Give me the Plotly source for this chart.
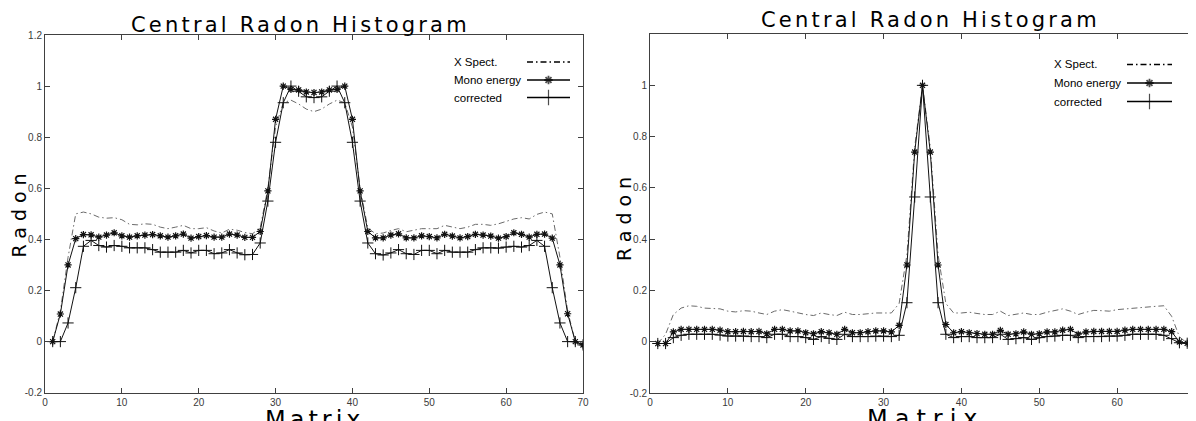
import plotly.graph_objects as go

# The page body has an 8px margin, so the figure fills the rest of the window.
PAGE_OFF = 8
W, H = 1196 - PAGE_OFF, 421 - PAGE_OFF

# ---------------- data ----------------
matrix = list(range(1, 71))

left_xspect = [0.0, 0.12, 0.33, 0.50, 0.507, 0.50, 0.487, 0.483, 0.485, 0.477,
               0.459, 0.457, 0.461, 0.459, 0.448, 0.442, 0.448, 0.455, 0.442, 0.442,
               0.446, 0.433, 0.425, 0.44, 0.436, 0.427, 0.422, 0.445, 0.60, 0.84,
               0.935, 0.945, 0.93, 0.91, 0.90, 0.91, 0.93, 0.945, 0.935, 0.84,
               0.60, 0.445, 0.422, 0.425, 0.435, 0.442, 0.43, 0.436, 0.442, 0.442,
               0.442, 0.455, 0.448, 0.442, 0.448, 0.459, 0.459, 0.455, 0.461, 0.472,
               0.48, 0.485, 0.48, 0.498, 0.507, 0.50, 0.33, 0.12, 0.0, -0.013]

left_mono = [0.0, 0.108, 0.30, 0.403, 0.419, 0.418, 0.409, 0.417, 0.426, 0.414,
             0.409, 0.414, 0.417, 0.419, 0.414, 0.409, 0.414, 0.421, 0.405, 0.411,
             0.415, 0.409, 0.409, 0.421, 0.417, 0.408, 0.408, 0.431, 0.59, 0.87,
             1.0, 0.987, 0.985, 0.977, 0.975, 0.977, 0.985, 0.987, 1.0, 0.87,
             0.59, 0.431, 0.406, 0.406, 0.417, 0.422, 0.406, 0.406, 0.414, 0.411,
             0.406, 0.42, 0.413, 0.406, 0.411, 0.42, 0.417, 0.413, 0.405, 0.411,
             0.426, 0.42, 0.409, 0.42, 0.421, 0.405, 0.30, 0.109, 0.0, -0.013]

left_corrected = [0.0, 0.0, 0.073, 0.211, 0.373, 0.396, 0.376, 0.37, 0.376, 0.373,
                  0.367, 0.367, 0.367, 0.36, 0.35, 0.35, 0.35, 0.357, 0.347, 0.357,
                  0.357, 0.344, 0.347, 0.36, 0.347, 0.34, 0.341, 0.386, 0.55, 0.78,
                  0.935, 1.0, 0.98, 0.958, 0.955, 0.958, 0.98, 1.0, 0.935, 0.78,
                  0.55, 0.386, 0.344, 0.339, 0.347, 0.36, 0.344, 0.341, 0.357, 0.357,
                  0.344, 0.357, 0.35, 0.35, 0.35, 0.36, 0.367, 0.367, 0.366, 0.37,
                  0.373, 0.37, 0.376, 0.396, 0.373, 0.211, 0.073, 0.0, 0.0, -0.013]

right_xspect = [-0.006, 0.03, 0.107, 0.132, 0.141, 0.139, 0.132, 0.131, 0.129, 0.120,
                0.117, 0.122, 0.120, 0.113, 0.107, 0.120, 0.126, 0.120, 0.113, 0.107,
                0.103, 0.113, 0.107, 0.103, 0.116, 0.107, 0.107, 0.111, 0.113, 0.113,
                0.113, 0.15, 0.34, 0.76, 1.0, 0.76, 0.34, 0.15, 0.113, 0.113,
                0.116, 0.111, 0.107, 0.107, 0.120, 0.103, 0.107, 0.113, 0.107, 0.107,
                0.116, 0.122, 0.129, 0.120, 0.107, 0.116, 0.123, 0.122, 0.120, 0.126,
                0.129, 0.132, 0.134, 0.136, 0.139, 0.141, 0.10, 0.02, -0.005, -0.009]

right_mono = [-0.006, -0.006, 0.039, 0.049, 0.049, 0.049, 0.049, 0.049, 0.046, 0.040,
              0.040, 0.041, 0.040, 0.041, 0.032, 0.049, 0.049, 0.043, 0.043, 0.036,
              0.032, 0.040, 0.036, 0.030, 0.049, 0.036, 0.036, 0.040, 0.043, 0.043,
              0.039, 0.065, 0.30, 0.74, 1.0, 0.74, 0.30, 0.068, 0.036, 0.040,
              0.036, 0.033, 0.030, 0.030, 0.045, 0.030, 0.032, 0.039, 0.030, 0.032,
              0.039, 0.039, 0.046, 0.049, 0.030, 0.039, 0.041, 0.041, 0.041, 0.041,
              0.046, 0.049, 0.049, 0.049, 0.049, 0.049, 0.040, 0.0, -0.005, -0.009]

right_corrected = [-0.006, -0.006, 0.017, 0.026, 0.030, 0.030, 0.030, 0.030, 0.027, 0.023,
                   0.023, 0.023, 0.021, 0.021, 0.017, 0.030, 0.030, 0.021, 0.021, 0.017,
                   0.010, 0.021, 0.014, 0.010, 0.030, 0.021, 0.021, 0.021, 0.023, 0.023,
                   0.021, 0.026, 0.153, 0.565, 1.0, 0.565, 0.153, 0.030, 0.017, 0.021,
                   0.021, 0.017, 0.017, 0.017, 0.030, 0.010, 0.013, 0.017, 0.010, 0.017,
                   0.021, 0.023, 0.026, 0.026, 0.017, 0.021, 0.021, 0.021, 0.023, 0.023,
                   0.026, 0.030, 0.030, 0.030, 0.030, 0.026, 0.013, -0.003, -0.005, -0.009]

series_names = ["X Spect.", "Mono energy", "corrected"]
x_tickvals = [0, 10, 20, 30, 40, 50, 60, 70]
x_ticktext = ["0", "10", "20", "30", "40", "50", "60", "70"]
y_tickvals_left = [-0.2, 0, 0.2, 0.4, 0.6, 0.8, 1.0, 1.2]
y_ticktext_left = ["-0.2", "0", "0.2", "0.4", "0.6", "0.8", "1", "1.2"]
y_tickvals_right = [-0.2, 0, 0.2, 0.4, 0.6, 0.8, 1.0]
y_ticktext_right = ["-0.2", "0", "0.2", "0.4", "0.6", "0.8", "1"]
title_text = "Central Radon Histogram"
xlabel_text = "Matrix"
ylabel_text = "Radon"


# ---------------- helpers: window pixels -> paper fractions ----------------
def px(x):
    return (x - PAGE_OFF) / W


def py(y):
    return 1 - (y - PAGE_OFF) / H


AX_COL = "#404040"
LINE_COL = "#111111"
DASH_COL = "#6a6a6a"
TICKFONT = dict(family="Liberation Sans, Arial, sans-serif", size=10, color="#3a3a3a")

fig = go.Figure()

panels = [
    dict(xa="x", ya="y", xs=left_xspect, ms=left_mono, cs=left_corrected),
    dict(xa="x2", ya="y2", xs=right_xspect, ms=right_mono, cs=right_corrected),
]

for p in panels:
    fig.add_trace(go.Scatter(x=matrix, y=p["xs"], mode="lines", xaxis=p["xa"], yaxis=p["ya"],
                             line=dict(color=DASH_COL, width=1, dash="6px,3px,1.5px,3px"),
                             showlegend=False, name=series_names[0]))
    fig.add_trace(go.Scatter(x=matrix, y=p["cs"], mode="lines+markers", xaxis=p["xa"], yaxis=p["ya"],
                             line=dict(color=LINE_COL, width=1),
                             marker=dict(symbol="cross-thin-open", size=8,
                                         line=dict(color="#222222", width=1)),
                             showlegend=False, name=series_names[2]))
    fig.add_trace(go.Scatter(x=matrix, y=p["ms"], mode="lines+markers", xaxis=p["xa"], yaxis=p["ya"],
                             line=dict(color=LINE_COL, width=1),
                             marker=dict(symbol="asterisk-open", size=6,
                                         line=dict(color="#000000", width=1.2)),
                             showlegend=False, name=series_names[1]))

# legend samples on a pixel-space overlay axis (window pixel coordinates)
legend_specs = [
    dict(tx=452, lx0=527, lx1=570, rows=[62, 80, 97.5]),
    dict(tx=1052, lx0=1127, lx1=1172, rows=[64.5, 83, 101.5]),
]
for spec in legend_specs:
    xs = [spec["lx0"], (spec["lx0"] + spec["lx1"]) / 2, spec["lx1"]]
    r = spec["rows"]
    fig.add_trace(go.Scatter(x=[xs[0], xs[2]], y=[r[0], r[0]], mode="lines", xaxis="x3", yaxis="y3",
                             line=dict(color="#000000", width=1.3, dash="6px,3px,1.5px,3px"),
                             showlegend=False, hoverinfo="skip"))
    fig.add_trace(go.Scatter(x=xs, y=[r[1]] * 3, mode="lines+markers", xaxis="x3", yaxis="y3",
                             line=dict(color="#000000", width=1.3),
                             marker=dict(symbol="asterisk-open", size=[0, 7, 0],
                                         line=dict(color="#000000", width=1.8)),
                             showlegend=False, hoverinfo="skip"))
    fig.add_trace(go.Scatter(x=xs, y=[r[2]] * 3, mode="lines+markers", xaxis="x3", yaxis="y3",
                             line=dict(color="#000000", width=1.3),
                             marker=dict(symbol="cross-thin-open", size=[0, 11, 0],
                                         line=dict(color="#000000", width=1.2)),
                             showlegend=False, hoverinfo="skip"))

common_x = dict(range=[0, 70], tickvals=x_tickvals, ticktext=x_ticktext, ticks="inside",
                ticklen=5, tickcolor=AX_COL, tickwidth=1, showline=True, linecolor=AX_COL,
                linewidth=1, mirror="ticks", showgrid=False, zeroline=False, tickfont=TICKFONT,
                ticklabeloverflow="allow")
common_y = dict(range=[-0.2, 1.2], ticks="inside", ticklen=5, tickcolor=AX_COL, tickwidth=1,
                showline=True, linecolor=AX_COL, linewidth=1, mirror="ticks", showgrid=False,
                zeroline=False, tickfont=TICKFONT)

fig.update_layout(
    width=W, height=H,
    margin=dict(l=0, r=0, t=0, b=0, autoexpand=False),
    paper_bgcolor="white", plot_bgcolor="rgba(0,0,0,0)",
    showlegend=False,
    xaxis=dict(domain=[px(45), px(583)], anchor="y", **common_x),
    yaxis=dict(domain=[py(392.7), py(35)], anchor="x", tickvals=y_tickvals_left,
               ticktext=y_ticktext_left, **common_y),
    xaxis2=dict(domain=[px(650), px(1195)], anchor="y2", **common_x),
    yaxis2=dict(domain=[py(393.3), py(34)], anchor="x2", tickvals=y_tickvals_right,
                ticktext=y_ticktext_right, **common_y),
    xaxis3=dict(domain=[0, 1], range=[PAGE_OFF, PAGE_OFF + W], visible=False, anchor="y3",
                fixedrange=True),
    yaxis3=dict(domain=[0, 1], range=[PAGE_OFF + H, PAGE_OFF], visible=False, anchor="x3",
                fixedrange=True),
)

ann = []
TITLE_FONT = dict(family="DejaVu Sans, sans-serif", size=21, color="#000000")


def spaced(t, s):
    return f'<span style="letter-spacing:{s}px">{t}</span>'


# titles
ann.append(dict(x=px(300), y=py(25), xref="paper", yref="paper", text=spaced(title_text, 3.2),
                showarrow=False, xanchor="center", yanchor="middle", font=TITLE_FONT))
ann.append(dict(x=px(930), y=py(20), xref="paper", yref="paper", text=spaced(title_text, 3.2),
                showarrow=False, xanchor="center", yanchor="middle", font=TITLE_FONT))
# x labels
ann.append(dict(x=px(315), y=py(420), xref="paper", yref="paper", text=spaced(xlabel_text, 4),
                showarrow=False, xanchor="center", yanchor="middle",
                font=dict(family="DejaVu Sans, sans-serif", size=24, color="#000000")))
ann.append(dict(x=px(926), y=py(419), xref="paper", yref="paper", text=spaced(xlabel_text, 7),
                showarrow=False, xanchor="center", yanchor="middle",
                font=dict(family="DejaVu Sans, sans-serif", size=24, color="#000000")))
# y labels
for cx, cy in [(18.5, 213), (624, 216)]:
    ann.append(dict(x=px(cx), y=py(cy), xref="paper", yref="paper", text=spaced(ylabel_text, 6),
                    showarrow=False, xanchor="center", yanchor="middle", textangle=-90,
                    font=dict(family="DejaVu Sans, sans-serif", size=19, color="#000000")))
# legend texts
LEG_FONT = dict(family="Liberation Sans Narrow, Arial Narrow, Liberation Sans, sans-serif",
                size=11.5, color="#000000")
for spec in legend_specs:
    for name, ry in zip(series_names, spec["rows"]):
        ann.append(dict(x=px(spec["tx"]), y=py(ry), xref="paper", yref="paper", text=name,
                        showarrow=False, xanchor="left", yanchor="middle", font=LEG_FONT))

fig.update_layout(annotations=ann)

fig.write_html("out.html")
